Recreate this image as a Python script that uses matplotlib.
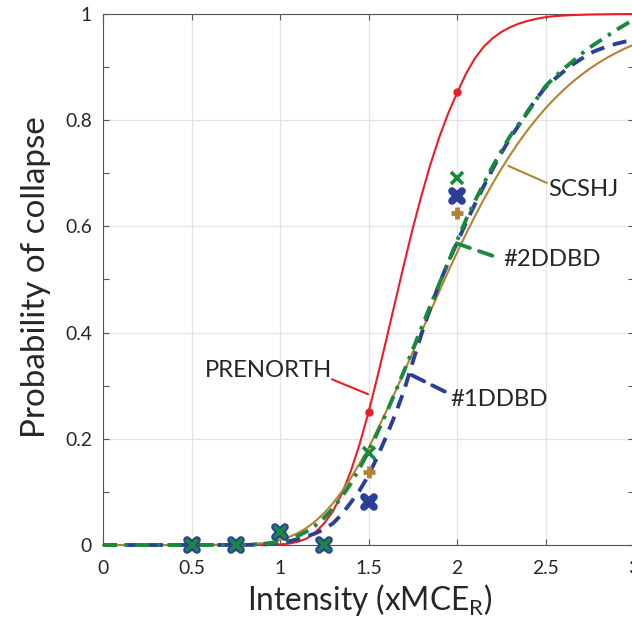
import matplotlib
matplotlib.use("Agg")
import matplotlib.pyplot as plt
from matplotlib.ticker import FixedLocator, FixedFormatter, MultipleLocator
from matplotlib.markers import MarkerStyle

plt.rcParams['font.family'] = ['Lato', 'DejaVu Sans']
plt.rcParams['mathtext.fontset'] = 'custom'
plt.rcParams['mathtext.rm'] = 'Lato'

# ---------------- data ----------------
X_TICKS = [0, 0.5, 1, 1.5, 2, 2.5, 3]
X_TICK_LABELS = ['0', '0.5', '1', '1.5', '2', '2.5', '3']
Y_TICKS = [0, 0.2, 0.4, 0.6, 0.8, 1.0]
Y_TICK_LABELS = ['0', '0.2', '0.4', '0.6', '0.8', '1']

# observed collapse fractions (markers)
X_PTS = [0.5, 0.75, 1.0, 1.25, 1.5, 2.0]
PRENORTH_PTS = [0, 0, 0.025, 0, 0.25, 0.853]
SCSHJ_PTS = [0, 0, 0.025, 0, 0.138, 0.625]
DDBD1_PTS = [0, 0, 0.025, 0, 0.081, 0.657]
DDBD2_PTS = [0, 0, 0.025, 0, 0.174, 0.691]

# fitted fragility curves
X_CURVE = [0.0, 0.5, 0.8, 0.9, 0.95,
           1.00, 1.05, 1.10, 1.15, 1.20, 1.25, 1.30, 1.35, 1.40, 1.45,
           1.50, 1.55, 1.60, 1.65, 1.70, 1.75, 1.80, 1.85, 1.90, 1.95,
           2.00, 2.05, 2.10, 2.15, 2.20, 2.25, 2.30, 2.35, 2.40, 2.45,
           2.50, 2.55, 2.60, 2.65, 2.70, 2.75, 2.80, 2.85, 2.90, 2.95, 3.00]
PRENORTH_CURVE = [0, 0, 0, 0, 0.0002,
                  0.001, 0.0026, 0.006, 0.012, 0.024, 0.041, 0.064, 0.097, 0.139, 0.19,
                  0.25, 0.316, 0.386, 0.457, 0.528, 0.596, 0.659, 0.717, 0.768, 0.8125,
                  0.851, 0.887, 0.916, 0.938, 0.954, 0.966, 0.975, 0.982, 0.987, 0.991,
                  0.994, 0.996, 0.997, 0.998, 0.9985, 0.999, 0.9993, 0.9995, 0.9997, 0.9998, 1.0]
SCSHJ_CURVE = [0, 0, 0.0008, 0.0033, 0.0057,
               0.0094, 0.0149, 0.0223, 0.0322, 0.0448, 0.0604, 0.079, 0.101, 0.126, 0.1536,
               0.182, 0.2168, 0.2516, 0.2879, 0.3252, 0.3633, 0.4017, 0.44, 0.4778, 0.5147,
               0.5506, 0.5853, 0.6184, 0.6501, 0.6801, 0.7081, 0.7345, 0.759, 0.7819, 0.8029,
               0.8223, 0.8401, 0.8564, 0.8713, 0.8847, 0.897, 0.9081, 0.918, 0.9271, 0.9352, 0.9424]
DDBD1_CURVE = [0, 0, 0.0001, 0.0008, 0.002,
               0.004, 0.007, 0.011, 0.016, 0.022, 0.030, 0.041, 0.058, 0.080, 0.103,
               0.131, 0.166, 0.204, 0.245, 0.29, 0.345, 0.398, 0.447, 0.492, 0.532,
               0.569, 0.606, 0.641, 0.675, 0.707, 0.738, 0.766, 0.791, 0.817, 0.841,
               0.862, 0.877, 0.891, 0.904, 0.915, 0.926, 0.933, 0.939, 0.944, 0.948, 0.951]
DDBD2_CURVE = [0, 0, 0.0004, 0.0019, 0.0036,
               0.0064, 0.0107, 0.0169, 0.0255, 0.0369, 0.0515, 0.0694, 0.0909, 0.116, 0.1446,
               0.1764, 0.211, 0.248, 0.2868, 0.327, 0.3682, 0.4098, 0.4512, 0.492, 0.5317,
               0.573, 0.612, 0.647, 0.68, 0.712, 0.742, 0.77, 0.793, 0.815, 0.84,
               0.864, 0.881, 0.896, 0.91, 0.924, 0.937, 0.948, 0.959, 0.97, 0.98, 0.99]

RED = '#ED1C24'
BROWN = '#B5832F'
BLUE = '#2B3F99'
GREEN = '#178A3E'
TXT = '#262626'

# ---------------- figure ----------------
fig = plt.figure(figsize=(6.32, 6.21), dpi=100)
ax = fig.add_axes([103 / 632, 76 / 621, 531 / 632, 531 / 621])
ax.set_xlim(0, 3)
ax.set_ylim(0, 1)

ax.xaxis.set_major_locator(FixedLocator(X_TICKS))
ax.xaxis.set_major_formatter(FixedFormatter(X_TICK_LABELS))
ax.yaxis.set_major_locator(FixedLocator(Y_TICKS))
ax.yaxis.set_major_formatter(FixedFormatter(Y_TICK_LABELS))
ax.yaxis.set_minor_locator(MultipleLocator(0.1))

ax.grid(True, which='major', color='#e3e3e3', lw=0.9, zorder=0)
ax.set_axisbelow(True)
for s in ax.spines.values():
    s.set_color('#555555')
    s.set_linewidth(0.8)
ax.tick_params(which='both', direction='in', top=True, right=True,
               length=4.5, width=0.8, color='#555555', labelcolor=TXT, labelsize=12)
ax.tick_params(axis='y', pad=8)
ax.tick_params(axis='x', pad=11)

# curves
ax.plot(X_CURVE, PRENORTH_CURVE, color=RED, lw=1.5, zorder=3, clip_on=False)
ax.plot(X_CURVE, SCSHJ_CURVE, color=BROWN, lw=1.5, zorder=3, clip_on=False)
ax.plot(X_CURVE, DDBD1_CURVE, color=BLUE, lw=2.8, ls=(0, (3.6, 2.3)), zorder=4, clip_on=False)
ax.plot(X_CURVE, DDBD2_CURVE, color=GREEN, lw=2.8, ls=(0, (3.6, 1.9, 0.9, 1.9)), zorder=5, clip_on=False)

# markers
ax.plot(X_PTS, PRENORTH_PTS, ls='none', marker='o', ms=5, color=RED, mec=RED, zorder=6, clip_on=False)
ax.plot(X_PTS, SCSHJ_PTS, ls='none', marker='+', ms=9, mew=3.5, color=BROWN, zorder=7, clip_on=False)
ax.plot(X_PTS, DDBD1_PTS, ls='none', marker=MarkerStyle('x', capstyle='round'),
        ms=7, mew=5.5, color=BLUE, zorder=8, clip_on=False)
ax.plot(X_PTS, DDBD2_PTS, ls='none', marker='x', ms=8, mew=2.6, color=GREEN, zorder=9, clip_on=False)

# annotations: leader lines + labels
def leader(p0, p1, color, lw, ls):
    ax.annotate('', xy=p1, xytext=p0,
                arrowprops=dict(arrowstyle='-', color=color, lw=lw, ls=ls,
                                shrinkA=0, shrinkB=0), zorder=5)

leader((1.294, 0.312), (1.497, 0.284), RED, 1.5, '-')
leader((1.744, 0.320), (1.949, 0.286), BLUE, 2.8, (0, (3.6, 2.3)))
leader((1.998, 0.568), (2.215, 0.543), GREEN, 2.8, (0, (3.6, 2.5)))
leader((2.290, 0.714), (2.507, 0.682), BROWN, 1.5, '-')

ann_pre = ax.text(1.294, 0.316, 'PRENORTH', ha='right', va='baseline', color=TXT, fontsize=19)
ann_1 = ax.text(1.96, 0.262, '#1DDBD', ha='left', va='baseline', color=TXT, fontsize=19)
ann_2 = ax.text(2.262, 0.525, '#2DDBD', ha='left', va='baseline', color=TXT, fontsize=19)
ann_s = ax.text(2.514, 0.657, 'SCSHJ', ha='left', va='baseline', color=TXT, fontsize=19)

xl = ax.set_xlabel('Intensity (xMCE$_{\\mathregular{R}}$)', fontsize=24, color=TXT)
yl = ax.set_ylabel('Probability of collapse', fontsize=24, color=TXT)
xl.set_verticalalignment('baseline')
yl.set_verticalalignment('baseline')
ax.xaxis.set_label_coords(0.503, -0.1224)
ax.yaxis.set_label_coords(-0.1092, 0.5047)

# fit text sizes to the measured pixel extents of the reference
fig.canvas.draw()
r = fig.canvas.get_renderer()

def fit(t, target, use_h=False):
    bb = t.get_window_extent(r)
    cur = bb.height if use_h else bb.width
    if cur > 0:
        t.set_fontsize(t.get_fontsize() * target / cur)

fit(xl, 246)
fit(yl, 322, use_h=True)
fit(ann_pre, 127)
sz = ann_pre.get_fontsize()
for t in (ann_1, ann_2, ann_s):
    t.set_fontsize(sz)
tl = ax.get_xticklabels()[1]
w = tl.get_window_extent(r).width
if w > 0:
    ax.tick_params(labelsize=tl.get_fontsize() * 26.7 / w)

fig.savefig('out.png', dpi=100)
